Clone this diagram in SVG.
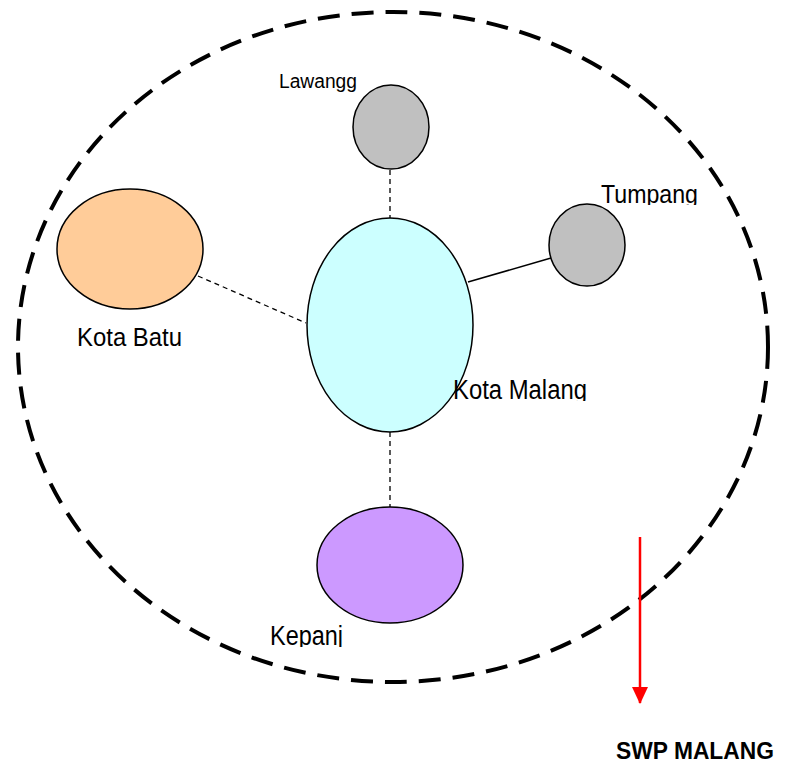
<svg xmlns="http://www.w3.org/2000/svg" width="787" height="770" viewBox="0 0 787 770">
<style>
.node{stroke:#000;stroke-width:1.5}
.lbl{font-family:"Liberation Sans",Arial,sans-serif;fill:#000}
.dash{stroke:#000;stroke-width:1.3;stroke-dasharray:5 4;fill:none}
</style>
<defs>
<marker id="arr" markerWidth="18" markerHeight="18" refX="16" refY="8" orient="auto" markerUnits="userSpaceOnUse" viewBox="0 0 18 16">
<path d="M0,0 L17,8 L0,16 Z" fill="#f00"/>
</marker>
<clipPath id="cT"><rect x="590" y="170" width="130" height="35"/></clipPath>
<clipPath id="cM"><rect x="440" y="370" width="160" height="31"/></clipPath>
<clipPath id="cK"><rect x="260" y="615" width="120" height="32"/></clipPath>
</defs>
<rect width="787" height="770" fill="#fff"/>
<ellipse id="boundary" cx="393" cy="347" rx="375" ry="335" fill="none" stroke="#000" stroke-width="4" stroke-dasharray="22 12"/>
<g id="connectors">
<line class="dash" x1="390" y1="170" x2="390" y2="218"/>
<line class="dash" x1="198" y1="276" x2="306" y2="323"/>
<line x1="468" y1="282" x2="551" y2="258" stroke="#000" stroke-width="1.5"/>
<line class="dash" x1="390" y1="432" x2="390" y2="507"/>
<line x1="640" y1="537" x2="640" y2="703" stroke="#f00" stroke-width="2.5" marker-end="url(#arr)"/>
</g>
<g id="lawangg">
<ellipse class="node" cx="391" cy="127" rx="38" ry="42" fill="#C0C0C0"/>
<text class="lbl" x="279" y="88" font-size="20" textLength="78" lengthAdjust="spacingAndGlyphs">Lawangg</text>
</g>
<g id="tumpang">
<ellipse class="node" cx="587" cy="245" rx="38" ry="41" fill="#C0C0C0"/>
<text class="lbl" x="601" y="203" font-size="26" textLength="97" lengthAdjust="spacingAndGlyphs" clip-path="url(#cT)">Tumpang</text>
</g>
<g id="kota-batu">
<ellipse class="node" cx="130" cy="249" rx="73" ry="60" fill="#FFCC99"/>
<text class="lbl" x="77" y="346" font-size="26" textLength="105" lengthAdjust="spacingAndGlyphs">Kota Batu</text>
</g>
<g id="kota-malang">
<ellipse class="node" cx="390" cy="325" rx="83" ry="107" fill="#CCFFFF"/>
<text class="lbl" x="453" y="399" font-size="27" textLength="134" lengthAdjust="spacingAndGlyphs" clip-path="url(#cM)">Kota Malang</text>
</g>
<g id="kepanj">
<ellipse class="node" cx="390" cy="565" rx="73" ry="58" fill="#CC99FF"/>
<text class="lbl" x="270" y="645" font-size="27" textLength="73" lengthAdjust="spacingAndGlyphs" clip-path="url(#cK)">Kepanj</text>
</g>
<g id="swp">
<text class="lbl" x="616" y="759" font-size="24" font-weight="bold" textLength="158" lengthAdjust="spacingAndGlyphs">SWP MALANG</text>
</g>
</svg>
